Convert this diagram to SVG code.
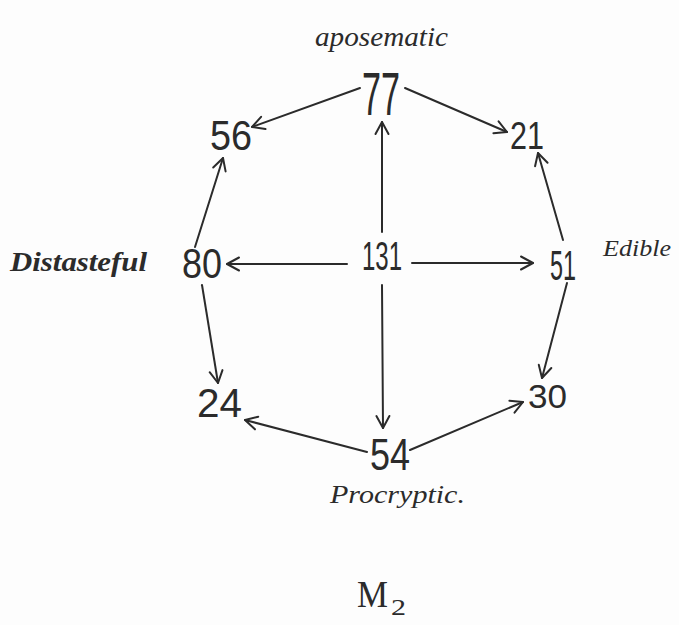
<svg xmlns="http://www.w3.org/2000/svg" width="679" height="625" viewBox="0 0 679 625">
<defs>
<marker id="arr" markerUnits="userSpaceOnUse" markerWidth="16" markerHeight="16" viewBox="0 0 16 16" refX="14" refY="8" orient="auto">
<path d="M2,1.5 L14,8 L2,14.5" fill="none" stroke="#2b2b2b" stroke-width="2" stroke-linecap="round" stroke-linejoin="round"/>
</marker>
</defs>
<style>
.num{font-family:"Liberation Sans","DejaVu Sans",sans-serif;fill:#2b2b2b;text-anchor:start}
.lbl{font-family:"Liberation Serif","DejaVu Serif",serif;font-style:italic;fill:#2b2b2b}
.up{font-style:normal}
.edge{stroke:#2b2b2b;stroke-width:2;fill:none;stroke-linecap:round;marker-end:url(#arr)}
</style>
<rect width="679" height="625" fill="#fdfdfd"/>
<g id="connectors">
<line class="edge" x1="360" y1="88" x2="252" y2="127"/>
<line class="edge" x1="405" y1="88" x2="507" y2="132"/>
<line class="edge" x1="382" y1="232" x2="382" y2="122"/>
<line class="edge" x1="347" y1="264" x2="227" y2="264"/>
<line class="edge" x1="412" y1="263" x2="533" y2="263"/>
<line class="edge" x1="382" y1="285" x2="383" y2="428"/>
<line class="edge" x1="195" y1="247" x2="223" y2="158"/>
<line class="edge" x1="202" y1="285" x2="218" y2="383"/>
<line class="edge" x1="563" y1="240" x2="538" y2="153"/>
<line class="edge" x1="567" y1="283" x2="542" y2="378"/>
<line class="edge" x1="367" y1="452" x2="245" y2="420"/>
<line class="edge" x1="410" y1="450" x2="523" y2="402"/>
</g>
<g id="n77"><text class="num" x="362" y="115" font-size="62" textLength="38" lengthAdjust="spacingAndGlyphs">77</text></g>
<g id="n56"><text class="num" x="210" y="150" font-size="42" textLength="42" lengthAdjust="spacingAndGlyphs">56</text></g>
<g id="n21"><text class="num" x="510" y="149" font-size="38" textLength="34" lengthAdjust="spacingAndGlyphs">21</text></g>
<g id="n80"><text class="num" x="182" y="278" font-size="42" textLength="40" lengthAdjust="spacingAndGlyphs">80</text></g>
<g id="n131"><text class="num" x="362" y="270" font-size="40" textLength="40" lengthAdjust="spacingAndGlyphs">131</text></g>
<g id="n51"><text class="num" x="550" y="280" font-size="42" textLength="26" lengthAdjust="spacingAndGlyphs">51</text></g>
<g id="n24"><text class="num" x="197" y="417" font-size="40" textLength="45" lengthAdjust="spacingAndGlyphs">24</text></g>
<g id="n54"><text class="num" x="370" y="470" font-size="44" textLength="40" lengthAdjust="spacingAndGlyphs">54</text></g>
<g id="n30"><text class="num" x="528" y="408" font-size="34" textLength="39" lengthAdjust="spacingAndGlyphs">30</text></g>
<g id="labels">
<text class="lbl" x="315" y="46" font-size="28" textLength="133" lengthAdjust="spacingAndGlyphs">aposematic</text>
<text class="lbl" x="10" y="271" font-size="28" font-weight="bold" textLength="137" lengthAdjust="spacingAndGlyphs">Distasteful</text>
<text class="lbl" x="603" y="256" font-size="24" textLength="68" lengthAdjust="spacingAndGlyphs">Edible</text>
<text class="lbl" x="330" y="503" font-size="26" textLength="135" lengthAdjust="spacingAndGlyphs">Procryptic.</text>
<text class="lbl up" x="357" y="607" font-size="38" textLength="31" lengthAdjust="spacingAndGlyphs">M</text>
<text class="lbl up" x="391" y="615" font-size="24" textLength="15" lengthAdjust="spacingAndGlyphs">2</text>
</g>
</svg>
